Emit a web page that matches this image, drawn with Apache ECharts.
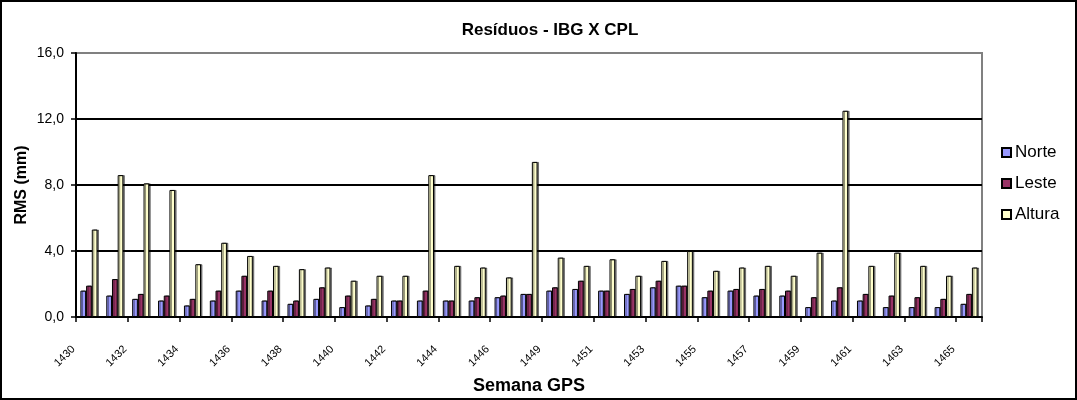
<!DOCTYPE html>
<html>
<head>
<meta charset="utf-8">
<script src="https://cdn.jsdelivr.net/npm/echarts@6/dist/echarts.min.js"></script>
<style>
html,body{margin:0;padding:0;background:#fff;}
#c{width:1077px;height:400px;}
</style>
</head>
<body>
<div id="c"></div>
<script>
const categories = ['1430','1431','1432','1433','1434','1435','1436','1437','1438','1439','1440','1441','1442','1443','1444','1445','1446','1447','1449','1450','1451','1452','1453','1454','1455','1456','1457','1458','1459','1460','1461','1462','1463','1464','1465'];
const norte = [1.6,1.3,1.1,1.0,0.7,1.0,1.6,1.0,0.8,1.1,0.6,0.7,1.0,1.0,1.0,1.0,1.2,1.4,1.6,1.7,1.6,1.4,1.8,1.9,1.2,1.6,1.3,1.3,0.6,1.0,1.0,0.6,0.6,0.6,0.8];
const leste = [1.9,2.3,1.4,1.3,1.1,1.6,2.5,1.6,1.0,1.8,1.3,1.1,1.0,1.6,1.0,1.2,1.3,1.4,1.8,2.2,1.6,1.7,2.2,1.9,1.6,1.7,1.7,1.6,1.2,1.8,1.4,1.3,1.2,1.1,1.4];
const altura = [5.3,8.6,8.1,7.7,3.2,4.5,3.7,3.1,2.9,3.0,2.2,2.5,2.5,8.6,3.1,3.0,2.4,9.4,3.6,3.1,3.5,2.5,3.4,4.0,2.8,3.0,3.1,2.5,3.9,12.5,3.1,3.9,3.1,2.5,3.0];
const yTicks = [0,4,8,12,16];

const chart = echarts.init(document.getElementById('c'), null, {renderer:'canvas'});
const F = 'Arial, "Liberation Sans", sans-serif';
function barStyle(color){
  return {color: color, borderColor:'#000', borderWidth:1,
          shadowColor:'rgba(0,0,0,0.45)', shadowOffsetX:1.5, shadowOffsetY:0, shadowBlur:0};
}
chart.setOption({
  animation:false,
  backgroundColor:'#fff',
  title:{text:'Resíduos - IBG X CPL', left:545, textAlign:'center', top:17,
    textStyle:{fontFamily:F, fontSize:17, fontWeight:'bold', color:'#000'}},
  legend:{orient:'vertical', left:996, top:139, itemWidth:9, itemHeight:9, itemGap:14,
    icon:'rect',
    textStyle:{fontFamily:F, fontSize:17, color:'#000', lineHeight:17, padding:[0,0,0,-1]},
    data:['Norte','Leste','Altura']},
  grid:{left:76, top:53, right:95, bottom:83, show:true, borderColor:'#808080', borderWidth:2, backgroundColor:'transparent'},
  xAxis:{type:'category', data:categories,
    name:'Semana GPS', nameLocation:'middle', nameGap:60,
    nameTextStyle:{fontFamily:F, fontSize:18, fontWeight:'bold', color:'#000'},
    axisLine:{lineStyle:{color:'#000', width:2}},
    axisTick:{show:true, length:5, lineStyle:{color:'#000', width:1.5}},
    axisLabel:{interval:1, rotate:45, fontFamily:F, fontSize:11, color:'#000', margin:15, padding:[0,22,0,0]},
    splitLine:{show:false}},
  yAxis:{type:'value', min:yTicks[0], max:yTicks[yTicks.length-1], interval:yTicks[1]-yTicks[0],
    name:'RMS (mm)', nameLocation:'middle', nameGap:46, nameRotate:90, nameMoveOverlap:false,
    nameTextStyle:{fontFamily:F, fontSize:16, fontWeight:'bold', color:'#000'},
    axisLine:{show:true, lineStyle:{color:'#000', width:2}},
    axisTick:{show:true, length:5, lineStyle:{color:'#000', width:1.5}},
    axisLabel:{fontFamily:F, fontSize:14, color:'#000', margin:12,
      formatter:v=>v.toFixed(1).replace('.',',')},
    splitLine:{show:true, lineStyle:{color:['#000','#000','#000','#000','#808080'], width:2}}},
  series:[
    {name:'Norte', type:'bar', data:norte, barGap:'0%', barCategoryGap:'34%', itemStyle:barStyle('#9999FF')},
    {name:'Leste', type:'bar', data:leste, barGap:'0%', barCategoryGap:'34%', itemStyle:barStyle('#993366')},
    {name:'Altura', type:'bar', data:altura, barGap:'0%', barCategoryGap:'34%', itemStyle:barStyle('#FFFFCC')}
  ],
  graphic:[{type:'rect', shape:{x:1, y:1, width:1075, height:398}, style:{fill:null, stroke:'#000', lineWidth:2}, silent:true, z:-1}]
});
</script>
</body>
</html>
